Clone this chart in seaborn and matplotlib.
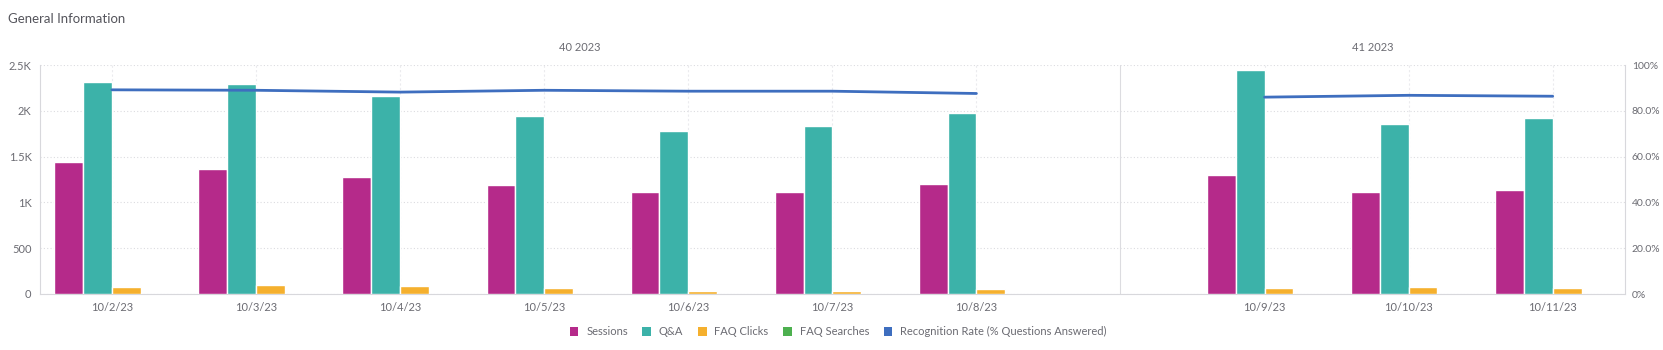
import matplotlib
matplotlib.use("Agg")
import matplotlib.pyplot as plt
from matplotlib.patches import Patch
import pandas as pd
import seaborn as sns

sns.set_style("white")
plt.rcParams["font.family"] = ["Lato", "DejaVu Sans"]

# data
dates = ["10/2/23", "10/3/23", "10/4/23", "10/5/23", "10/6/23", "10/7/23", "10/8/23",
         "10/9/23", "10/10/23", "10/11/23"]
weeks = ["40 2023"] * 7 + ["41 2023"] * 3
sessions = [1445, 1360, 1280, 1195, 1115, 1115, 1205, 1295, 1115, 1140]
qa = [2315, 2295, 2160, 1945, 1775, 1835, 1980, 2445, 1855, 1925]
faq_clicks = [72, 98, 85, 70, 38, 28, 60, 70, 80, 70]
faq_searches = [0, 0, 0, 0, 0, 0, 0, 0, 0, 0]
recognition = [89.2, 89.0, 88.2, 89.0, 88.6, 88.6, 87.6, 86.0, 86.8, 86.4]

series_names = ["Sessions", "Q&A", "FAQ Clicks", "FAQ Searches"]
colors = {"Sessions": "#B52A8A", "Q&A": "#3CB2A9", "FAQ Clicks": "#F5B02E",
          "FAQ Searches": "#4DB04F"}
line_color = "#3E6EBF"
text_gray = "#6b6b72"

# a blank slot between the two weeks
order = dates[:7] + [" "] + dates[7:]
pos = {d: order.index(d) for d in dates}

bar_df = pd.DataFrame({
    "date": dates * 4,
    "series": sum([[s] * len(dates) for s in series_names], []),
    "value": sessions + qa + faq_clicks + faq_searches,
})
line_df = pd.DataFrame({"pos": [pos[d] for d in dates], "rate": recognition, "week": weeks})

fig = plt.figure(figsize=(16.63, 3.5), dpi=100)
ax = fig.add_axes([0.024, 0.16, 0.953, 0.654])

sns.barplot(data=bar_df, x="date", y="value", hue="series", order=order,
            hue_order=series_names, palette=colors, width=0.8, saturation=1,
            edgecolor="white", linewidth=1, ax=ax, legend=False, zorder=3)

ax.set_xlim(-0.5, len(order) - 0.5)
ax.set_ylim(0, 2500)
ax.set_yticks([0, 500, 1000, 1500, 2000, 2500])
ax.set_yticklabels(["0", "500", "1K", "1.5K", "2K", "2.5K"])
ax.set_xticks(range(len(order)))
ax.set_xticklabels([d.strip() for d in order])
ax.set_xlabel("")
ax.set_ylabel("")
ax.tick_params(axis="both", length=0, labelsize=8, colors=text_gray, pad=6)
ax.yaxis.grid(True, linestyle=(0, (1, 2)), color="#dcdce0", linewidth=0.8, zorder=0)
for i, d in enumerate(order):
    if d.strip():
        ax.axvline(i, linestyle=(0, (2, 2)), color="#ebebee", linewidth=0.8, zorder=0)
ax.axvline(order.index(" "), color="#dcdce0", linewidth=0.8, zorder=1)
for side in ["left", "bottom", "right"]:
    ax.spines[side].set_color("#d8d8dc")
    ax.spines[side].set_linewidth(0.8)
ax.spines["top"].set_visible(False)

# week headers
gap = order.index(" ")
for wk, first, last in [("40 2023", -0.5, gap), ("41 2023", gap, len(order) - 0.5)]:
    ax.text((first + last) / 2, 1.055, wk, transform=ax.get_xaxis_transform(),
            ha="center", va="bottom", fontsize=8, color=text_gray)

ax2 = ax.twinx()
sns.lineplot(data=line_df, x="pos", y="rate", units="week", estimator=None,
             color=line_color, linewidth=2, ax=ax2, zorder=4)
ax2.set_ylim(0, 100)
ax2.set_yticks([0, 20, 40, 60, 80, 100])
ax2.set_yticklabels(["0%", "20.0%", "40.0%", "60.0%", "80.0%", "100%"])
ax2.set_ylabel("")
ax2.tick_params(axis="y", length=0, labelsize=7.5, colors=text_gray, pad=5)
for s in ax2.spines.values():
    s.set_visible(False)
ax2.set_xlim(-0.5, len(order) - 0.5)

fig.text(0.005, 0.945, "General Information", fontsize=9.5, color="#55555c",
         ha="left", va="center")

handles = [Patch(facecolor=colors[s], edgecolor="none") for s in series_names]
handles.append(Patch(facecolor=line_color, edgecolor="none"))
labels = series_names + ["Recognition Rate (% Questions Answered)"]
fig.legend(handles, labels, loc="center", bbox_to_anchor=(0.504, 0.052), ncol=5,
           frameon=False, fontsize=8, handlelength=0.8, handleheight=0.8,
           handletextpad=0.7, columnspacing=1.3, labelcolor=text_gray)

fig.savefig("out.png", dpi=100)
